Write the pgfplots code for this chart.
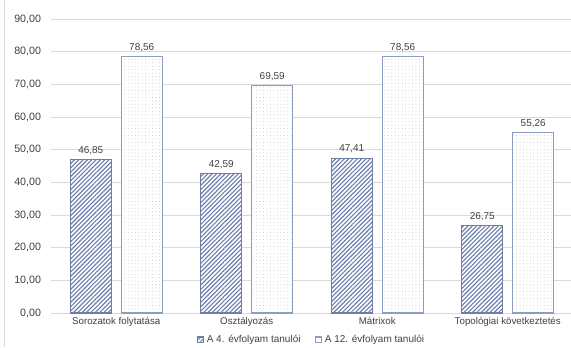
\documentclass[border=0pt]{standalone}
\usepackage{pgfplots}
\pgfplotsset{compat=1.18}
\usepackage{fontspec}
\setmainfont{Liberation Sans}
\usetikzlibrary{patterns.meta}
\definecolor{hatch}{HTML}{6A7DAE}
\definecolor{hborder}{HTML}{6E7FA3}
\definecolor{dborder}{HTML}{8C9DC0}
\definecolor{dotc}{HTML}{B8B8B8}
\definecolor{gridc}{HTML}{D9D9D9}
\definecolor{txt}{HTML}{404040}
\begin{document}
\begin{tikzpicture}
\useasboundingbox (0pt,0pt) rectangle (428.25pt,260.25pt);
\draw[gridc, line width=0.6pt] (3pt,0pt) -- (3pt,260.25pt);
\begin{axis}[
  at={(38.25pt,25.5pt)}, anchor=south west,
  scale only axis,
  width=391.5pt, height=220.5pt,
  xmin=-0.5, xmax=3.5, ymin=0, ymax=90,
  ytick={0,10,...,90},
  xtick={0,1,2,3},
  xticklabels={Sorozatok folytatása,Osztályozás,Mátrixok,Topológiai következtetés},
  axis line style={draw=none},
  ymajorgrids, grid style={gridc, line width=0.6pt},
  major tick length=0pt,
  tick label style={text=txt},
  yticklabel style={font=\fontsize{8}{9}\selectfont, xshift=-4pt, /pgf/number format/.cd, fixed, fixed zerofill, precision=2, use comma, assume math mode=true},
  xticklabel style={font=\fontsize{7.3}{9}\selectfont, text=txt, yshift=0.5pt},
  ybar, bar width=30.75pt,
  nodes near coords,
  nodes near coords style={font=\fontsize{7.5}{9}\selectfont, text=txt, /pgf/number format/.cd, fixed, fixed zerofill, precision=2, use comma, assume math mode=true},
  legend style={at={(0.5,-12.5pt)}, anchor=north, draw=none, fill=none, legend columns=2,
    font=\fontsize{7.5}{8}\selectfont, text=txt, /tikz/every even column/.append style={column sep=9pt}},
  legend image code/.code={\draw[#1] (0pt,-2.2pt) rectangle (4.4pt,2.2pt);},
  clip=false,
]
\addplot[bar shift=-19.1pt, draw=hborder, line width=0.8pt,
  postaction={pattern={Lines[angle=45,distance=2.3pt,line width=0.85pt]}, pattern color=hatch}, fill=white]
  coordinates {(0,46.85) (1,42.59) (2,47.41) (3,26.75)};
\addplot[bar shift=19.1pt, draw=dborder, line width=0.8pt,
  postaction={pattern={Dots[distance=2.6pt,radius=0.3pt]}, pattern color=dotc}, fill=white]
  coordinates {(0,78.56) (1,69.59) (2,78.56) (3,55.26)};
\legend{A 4. évfolyam tanulói, A 12. évfolyam tanulói}
\end{axis}
\end{tikzpicture}
\end{document}
